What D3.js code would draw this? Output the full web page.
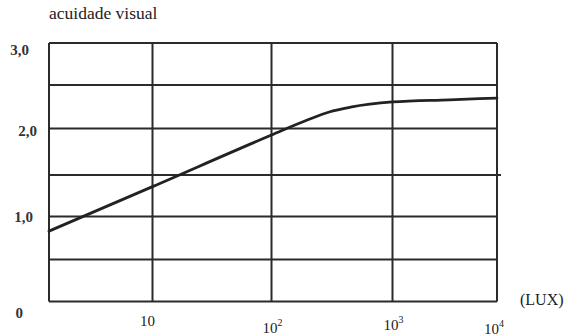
<!DOCTYPE html>
<html><head><meta charset="utf-8">
<script src="https://cdn.jsdelivr.net/npm/d3@7/dist/d3.min.js"></script>
<style>
html,body{margin:0;padding:0;background:#fff;}
svg{display:block;}
</style></head>
<body>
<script>
// ---- data ----
const luxValues = [1, 10, 100, 200, 300, 450, 1000, 3500, 10000];
const acuity    = [0.83, 1.36, 1.93, 2.10, 2.19, 2.245, 2.305, 2.33, 2.35];
const xGridValues = [1, 10, 100, 1000, 10000];
const xTickValues = [10, 100, 1000, 10000];
const xTickBase   = ["10", "10", "10", "10"];
const xTickExp    = ["", "2", "3", "4"];
const yGridValues = [0, 0.5, 1, 1.5, 2, 2.5, 3];
const yTickValues = [0, 1, 2, 3];
const yTickLabels = ["0", "1,0", "2,0", "3,0"];
const yTitle = "acuidade visual";
const xUnit = "(LUX)";

const W = 568, H = 336;
const FONT = "'Liberation Serif', 'Times New Roman', 'DejaVu Serif', serif";
const svg = d3.select("body").append("svg").attr("width", W).attr("height", H)
  .attr("font-family", FONT);

// hand-drawn chart: piecewise scales follow the drawn grid
const x = d3.scaleLog().domain(xGridValues).range([49, 152.5, 271.5, 392.5, 497]);
const y = d3.scaleLinear().domain(yGridValues).range([301.5, 259.5, 216.5, 175, 128.5, 85, 43]);

const ink = "#2b2b2b";
const g = svg.append("g");

// horizontal grid lines
g.selectAll("line.h").data(yGridValues).join("line")
  .attr("x1", x(1)).attr("x2", d => d === 1.5 ? x(10000) + 4 : x(10000))
  .attr("y1", d => y(d)).attr("y2", d => y(d))
  .attr("stroke", ink).attr("stroke-width", 2);

// vertical grid lines
g.selectAll("line.v").data(xGridValues).join("line")
  .attr("x1", d => x(d)).attr("x2", d => x(d))
  .attr("y1", y(3)).attr("y2", y(0))
  .attr("stroke", ink).attr("stroke-width", 2);

// curve
const pts = luxValues.map((l, i) => [l, acuity[i]]);
svg.append("path").datum(pts)
  .attr("fill", "none").attr("stroke", "#222").attr("stroke-width", 2.8)
  .attr("stroke-linejoin", "round").attr("stroke-linecap", "round")
  .attr("d", d3.line().x(d => x(d[0])).y(d => y(d[1])).curve(d3.curveMonotoneX));

// y tick labels (hand placed in the original)
const yNudge = v => v === 3 ? 12 : v === 0 ? 16 : v === 2 ? 7 : 5;
const yRight = v => v === 3 ? 29 : v === 2 ? 37 : v === 1 ? 33 : 23;
svg.selectAll("text.yt").data(yTickValues).join("text")
  .attr("class", "yt")
  .attr("x", d => yRight(d)).attr("y", d => y(d) + yNudge(d))
  .attr("text-anchor", "end").attr("font-size", 15).attr("font-weight", "bold")
  .attr("fill", "#333")
  .text((d, i) => yTickLabels[i]);

// x tick labels
const xBase = [326, 333, 330, 334];
const xt = svg.selectAll("text.xt").data(xTickValues).join("text")
  .attr("class", "xt")
  .attr("x", d => x(d) + (d === 10 ? -5 : d === 10000 ? -3 : 1))
  .attr("y", (d, i) => xBase[i])
  .attr("text-anchor", "middle").attr("font-size", 15).attr("fill", "#222");
xt.append("tspan").text((d, i) => xTickBase[i]);
xt.append("tspan").attr("font-size", 10).attr("dy", -7).text((d, i) => xTickExp[i]);

// titles
svg.append("text").attr("x", 49).attr("y", 19).attr("font-size", 17.5).attr("fill", "#222").text(yTitle);
svg.append("text").attr("x", 520).attr("y", 305).attr("font-size", 16).attr("fill", "#222").text(xUnit);
</script>
</body></html>
